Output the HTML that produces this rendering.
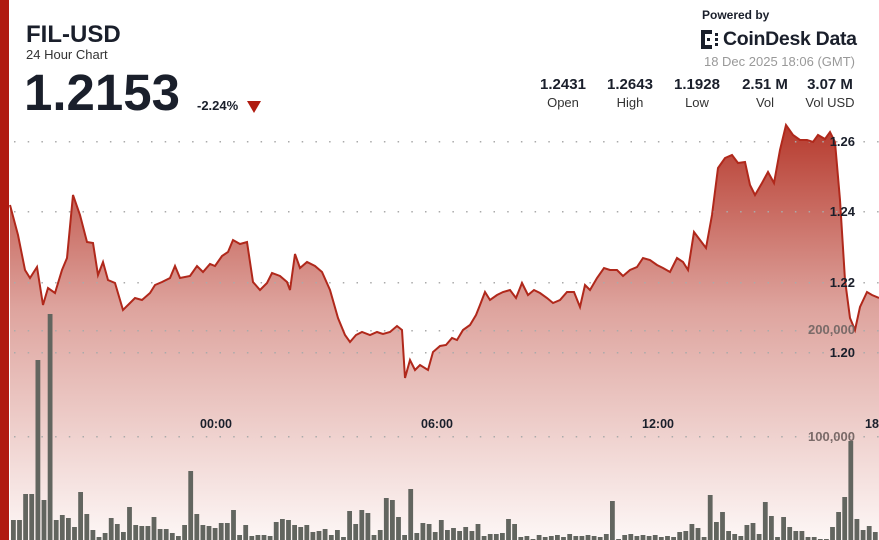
<!DOCTYPE html>
<html><head><meta charset="utf-8"><style>
body{margin:0;width:879px;height:540px;overflow:hidden;background:#fff;font-family:"Liberation Sans",sans-serif;position:relative}
.a{position:absolute;white-space:nowrap}
.st{position:absolute;top:76px;text-align:center;width:70px}
.st b{display:block;font-size:15px;color:#1a1f2b}
.st span{display:block;font-size:13px;color:#333;margin-top:2px}
</style></head><body>
<svg id="s" width="879" height="540" style="position:absolute;left:0;top:0">
<defs><linearGradient id="g" x1="0" y1="120" x2="0" y2="540" gradientUnits="userSpaceOnUse">
<stop offset="0" stop-color="#b5372a"/><stop offset="0.45" stop-color="#dea49e"/><stop offset="1" stop-color="#fdf7f6"/></linearGradient></defs>
<path id="area" fill="url(#g)"/><g id="grid"></g><g id="vol"></g><path id="ln" fill="none" stroke="#b0281b" stroke-width="2"/>
<g font-family="Liberation Sans" font-weight="bold" font-size="13" fill="#1a1f2b" text-anchor="end">
<text x="855" y="146">1.26</text><text x="855" y="216">1.24</text><text x="855" y="287">1.22</text><text x="855" y="357">1.20</text>
<text x="855" y="334" fill="#7a6a68">200,000</text><text x="855" y="441" fill="#7a6a68">100,000</text>
</g>
<g font-family="Liberation Sans" font-weight="bold" font-size="12.5" fill="#1a1f2b" text-anchor="middle">
<text x="216" y="428">00:00</text><text x="437" y="428">06:00</text><text x="658" y="428">12:00</text><text x="872" y="428">18</text></g>
</svg>
<div class="a" style="left:0;top:0;width:9px;height:540px;background:#b01b10"></div>
<div class="a" style="left:26px;top:21px;font-size:24px;font-weight:bold;color:#1a1f2b">FIL-USD</div>
<div class="a" style="left:26px;top:47px;font-size:13px;color:#333">24 Hour Chart</div>
<div class="a" style="left:24px;top:63px;font-size:51px;font-weight:bold;color:#1a1f2b">1.2153</div>
<div class="a" style="left:197px;top:98px;font-size:13px;font-weight:bold;color:#1a1f2b">-2.24%</div>
<svg class="a" style="left:247px;top:101px" width="14" height="12"><path d="M0 0H14L7 12Z" fill="#b01b10"/></svg>
<div class="a" style="left:702px;top:8px;font-size:12px;font-weight:bold;color:#1a1f2b">Powered by</div>
<svg class="a" style="left:701px;top:30px" width="20" height="20"><g fill="#1a1f2b"><rect x="0" y="0" width="4" height="19"/><rect x="4" y="0" width="7" height="4"/><rect x="4" y="15" width="7" height="4"/><rect x="14" y="3" width="3" height="3"/><rect x="14" y="8" width="3" height="3"/><rect x="14" y="13" width="3" height="3"/><rect x="6" y="8" width="3" height="3"/></g></svg>
<div class="a" style="left:723px;top:28px;font-size:19.5px;font-weight:bold;color:#1a1f2b;letter-spacing:-0.3px">CoinDesk Data</div>
<div class="a" style="right:24px;top:54px;font-size:13px;color:#999">18 Dec 2025 18:06 (GMT)</div>
<div class="st" style="left:528px"><b>1.2431</b><span>Open</span></div>
<div class="st" style="left:595px"><b>1.2643</b><span>High</span></div>
<div class="st" style="left:662px"><b>1.1928</b><span>Low</span></div>
<div class="st" style="left:730px"><b>2.51 M</b><span>Vol</span></div>
<div class="st" style="left:795px"><b>3.07 M</b><span>Vol USD</span></div>
<script>
var P=[10,205,18,235,25,270,30,278,37,267,43,305,48,288,55,293,62,270,67,258,73,195,80,215,87,242,93,243,98,275,103,262,108,280,115,283,123,310,128,305,135,298,142,300,150,293,155,285,162,282,170,278,175,266,180,278,190,276,197,266,203,272,210,264,215,266,222,256,228,252,233,240,240,244,247,242,253,282,260,290,267,283,272,273,280,276,287,282,290,290,295,254,300,268,307,262,315,266,322,272,330,290,338,318,345,335,350,342,356,335,362,332,370,335,377,332,383,334,390,332,397,326,402,330,405,378,410,360,415,370,420,365,428,370,433,352,440,346,446,345,452,338,457,340,463,330,470,325,476,315,480,305,485,292,490,300,497,295,503,292,510,290,516,298,522,283,528,295,534,290,540,293,547,298,553,303,560,300,567,292,574,292,580,307,585,285,590,290,597,278,604,268,610,270,617,270,623,276,630,270,637,267,643,258,650,260,657,265,663,268,670,272,677,258,683,262,688,270,694,232,700,240,706,248,712,215,718,168,725,158,732,155,738,163,745,162,750,185,755,195,762,183,768,172,774,183,780,150,786,125,793,135,800,140,807,140,813,142,818,135,825,139,830,132,835,142,840,200,845,280,850,318,855,330,860,307,867,292,872,295,879,298];
var d="M"+P[0]+" "+P[1];for(var i=2;i<P.length;i+=2)d+=" L"+P[i]+" "+P[i+1];
document.getElementById("ln").setAttribute("d",d);
document.getElementById("area").setAttribute("d",d+" L879 540 L10 540 Z");
var V=[520,520,494,494,360,500,314,520,515,518,527,492,514,530,537,533,518,524,532,507,525,526,526,517,529,529,533,536,525,471,514,525,526,528,523,523,510,535,525,536,535,535,536,522,519,520,525,527,525,532,531,529,535,530,537,511,524,510,513,535,530,498,500,517,535,489,533,523,524,532,520,530,528,531,527,531,524,536,534,534,533,519,524,537,536,539,535,537,536,535,537,534,536,536,535,536,537,534,501,539,535,534,536,535,536,535,537,536,537,532,531,524,528,537,495,522,512,531,534,536,525,523,534,502,516,537,517,527,531,531,537,537,539,539,527,512,497,441,519,530,526,532];
var g="";var step=(879-11)/V.length;for(var j=0;j<V.length;j++){var x=11+j*step;g+='<rect x="'+x.toFixed(1)+'" y="'+V[j]+'" width="'+(step-1.3).toFixed(1)+'" height="'+(540-V[j])+'" fill="#62655f"/>';}
document.getElementById("vol").innerHTML=g;
var gr="";[141,211,282,330,352,436].forEach(function(y){for(var x=14;x<879;x+=13.7)gr+='<rect x="'+x.toFixed(1)+'" y="'+y+'" width="1.5" height="1.5" fill="#aaa"/>';});
document.getElementById("grid").innerHTML=gr;
</script>
</body></html>
